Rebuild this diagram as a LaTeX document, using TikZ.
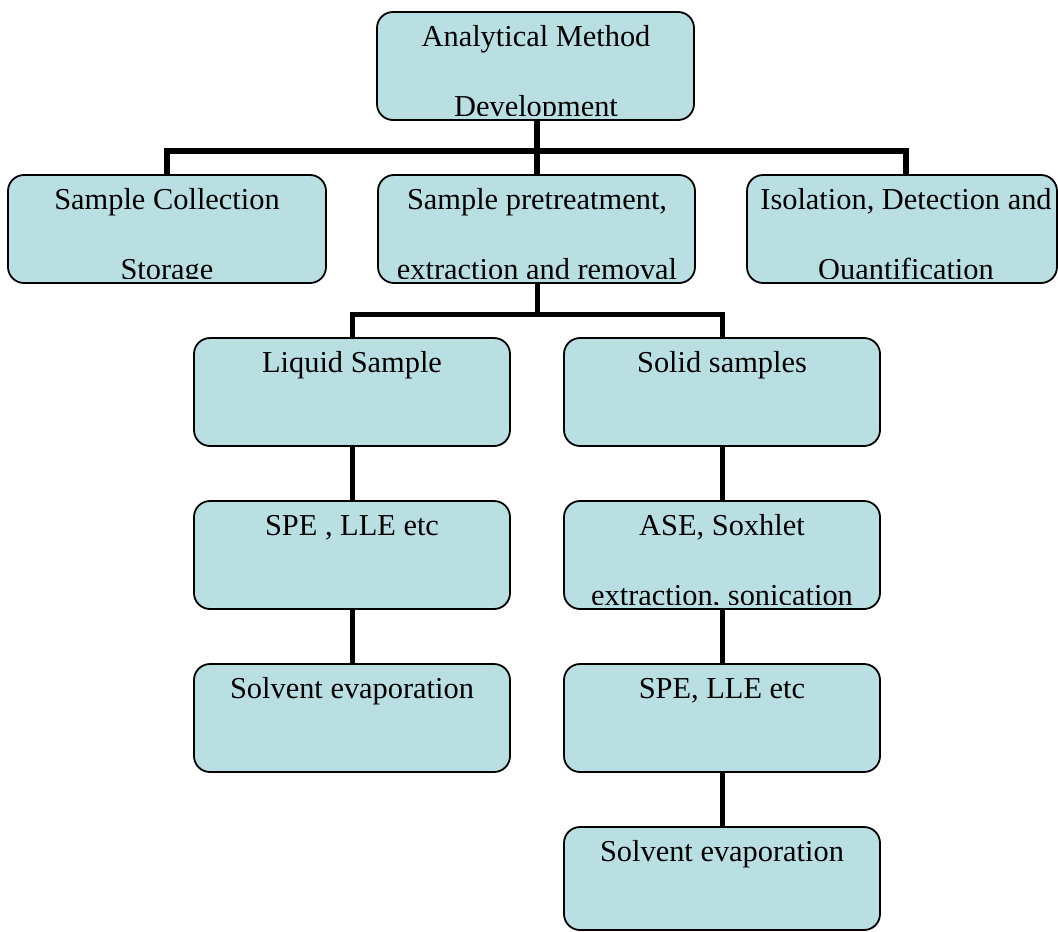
\documentclass[tikz,border=0pt]{standalone}
\usepackage{fontspec}
\setmainfont{Liberation Serif}
\definecolor{boxfill}{RGB}{186,223,227}
\newcommand\mkbox[8]{% name, x1, y1, x2, y2, text x, line1, line2
  \node[boxst, minimum width={(#4-#2)*1pt}, minimum height={(#5-#3)*1pt}] (#1) at ({(#2+#4)/2},{(#3+#5)/2}) {};
  \begin{scope}
    \clip ({#2+2},{#3+2}) rectangle ({#4-2},{#5-5});
    \node[txt] (#1-a) at (#6,{#3+34}) {#7};
    \node[txt] (#1-b) at (#6,{#3+104}) {#8};
  \end{scope}
}
\begin{document}
\begin{tikzpicture}[x=1pt,y=-1pt,
  boxst/.style={draw=black, line width=1.8pt, fill=boxfill, rounded corners=16pt, inner sep=0pt},
  txt/.style={anchor=base, inner sep=0pt, font=\fontsize{30.4pt}{36pt}\selectfont},
  busA/.style={draw=black, line width=5.5pt},
  busB/.style={draw=black, line width=5pt}]
\useasboundingbox (0,0) rectangle (1058,932);

% connectors first (behind boxes)
\coordinate (b1) at (537,151);
\coordinate (b2) at (537,314);
\coordinate (isoTop) at (906,200);
\coordinate (topBot) at (537,100);
\coordinate (spBot) at (537,260);
\coordinate (spTop) at (537,200);
\coordinate (scTop) at (167,200);
\coordinate (liqTop) at (352,360);
\coordinate (solTop) at (722,360);

\draw[busA] (topBot) -- (b1);
\draw[busA] (scTop) |- (b1) -| (isoTop);
\draw[busA] (b1) -- (spTop);
\draw[busB] (spBot) -- (b2);
\draw[busB] (liqTop) |- (b2) -| (solTop);

\draw[busB] (352,420) coordinate (l1) -- (352,520) coordinate (l2);
\draw[busB] (352,590) coordinate (l3) -- (352,680) coordinate (l4);
\draw[busB] (722,420) coordinate (r1) -- (722,520) coordinate (r2);
\draw[busB] (722,590) coordinate (r3) -- (722,680) coordinate (r4);
\draw[busB] (722,750) coordinate (r5) -- (722,840) coordinate (r6);

% boxes
\mkbox{top}{377}{12}{694}{120}{536}{Analytical Method}{Development}
\mkbox{sc}{8}{175}{326}{283}{167}{Sample Collection}{Storage}
\mkbox{sp}{378}{175}{695}{283}{537}{Sample pretreatment,}{extraction and removal}
\mkbox{iso}{747}{175}{1057}{283}{906}{Isolation, Detection and}{Quantification}
\mkbox{liq}{194}{338}{510}{446}{352}{Liquid Sample}{}
\mkbox{sol}{564}{338}{880}{446}{722}{Solid samples}{}
\mkbox{spea}{194}{501}{510}{609}{352}{SPE , LLE etc}{}
\mkbox{ase}{564}{501}{880}{609}{722}{ASE, Soxhlet}{extraction, sonication}
\mkbox{solva}{194}{664}{510}{772}{352}{Solvent evaporation}{}
\mkbox{speb}{564}{664}{880}{772}{722}{SPE, LLE etc}{}
\mkbox{solvb}{564}{827}{880}{930}{722}{Solvent evaporation}{}
\end{tikzpicture}
\end{document}
